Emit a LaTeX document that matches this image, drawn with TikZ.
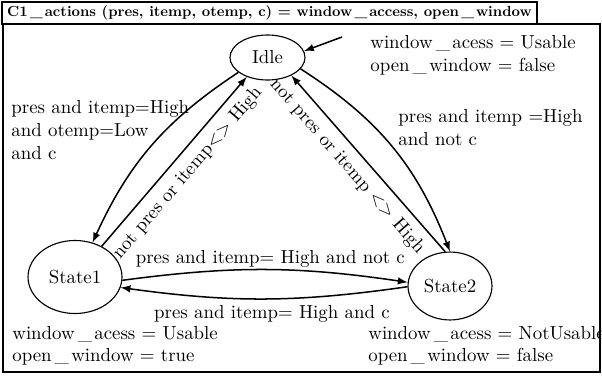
\documentclass[tikz,border=0pt]{standalone}
\usepackage{amsmath}
\usepackage{tikz}
\usetikzlibrary{
    arrows,
    shapes
}
\newcommand{\uscore}{\kern1.6pt\_\kern1.3pt}

\begin{document}
\begin{tikzpicture}[x=0.53pt, y=0.53pt,
    state/.style={draw, semithick, ellipse, inner sep=0pt},
    trans/.style={->, >=latex, thick},
    note/.style={anchor=west, align=left, inner sep=0pt}]
            \useasboundingbox (0,0) rectangle (602,375);
            
            % frame and title
            \node[draw, semithick, inner sep=0pt, minimum width=283.5pt, minimum height=11.7pt] (title) at (269.5,362) {\resizebox{278pt}{!}{\textbf{C1\uscore actions (pres, itemp, otemp, c) = window\uscore access, open\uscore window}}};
            \coordinate (frameTL) at (3,351);
            \coordinate (frameBR) at (600,3);
            \draw[semithick] (frameTL) rectangle (frameBR);
            
            % states
            \node[state, minimum width=39.75pt, minimum height=23.85pt] (idle) at (267.5,317.5) {Idle};
            \node[state, minimum width=49.8pt, minimum height=38.7pt] (state1) at (75,98) {State1};
            \node[state, minimum width=44.5pt, minimum height=36pt] (state2) at (450,89) {State2};
            
            \coordinate (init) at (342,338);
            \draw[trans] (init)--(idle.10);
            
            % transitions
            \draw[trans] (idle.207) to[bend right=16] (state1.63);
            \draw[trans] (state1.49) -- node[sloped, below, inner sep=4.5pt] {not pres or itemp\textless\textgreater{} High} (idle.223);
            \draw[trans] (idle.341) to[bend left=18] (state2.90);
            \draw[trans] (state2.98) -- node[pos=0.55, sloped, below, inner sep=4.5pt] {not pres or itemp \textless\textgreater{} High} (idle.323);
            \draw[trans] (state1.356) to[bend left=8] node[pos=0.52, above, inner sep=1pt] {pres and itemp= High and not c} (state2.175);
            \draw[trans] (state2.181) to[bend left=8] node[pos=0.47, below, inner sep=3pt] {pres and itemp= High and c} (state1.347);
            
            % outputs and guards
            \node[note] (idleOut) at (370,320) {window\uscore acess = Usable\\open\uscore window = false};
            \node[note] (guard1) at (11,245) {pres and itemp=High\\and otemp=Low\\and c};
            \node[note] (guard2) at (398,247.2) {pres and itemp =High\\and not c};
            \node[note] (state1Out) at (12,29.2) {window\uscore acess = Usable\\open\uscore window = true};
            \node[note] (state2Out) at (368,29.2) {window\uscore acess = NotUsable\\open\uscore window = false};
\end{tikzpicture}
\end{document}
